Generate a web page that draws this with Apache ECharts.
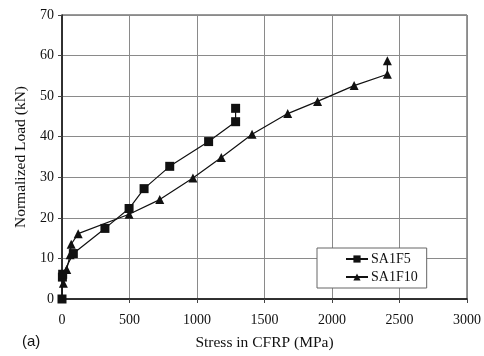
<!DOCTYPE html>
<html>
<head>
<meta charset="utf-8">
<script src="https://cdn.jsdelivr.net/npm/echarts@6/dist/echarts.min.js"></script>
<style>
  html, body { margin: 0; padding: 0; background: #fff; }
  #chart { width: 484px; height: 356px; }
</style>
</head>
<body>
<div id="chart"></div>
<script>
// Stress in CFRP (MPa) vs normalized load (kN)
const seriesNames = ['SA1F5', 'SA1F10'];
const stressF5 = [0, 3, 5, 84, 318, 497, 608, 798, 1086, 1286, 1286];
const loadF5   = [0, 5.4, 6.1, 11.2, 17.4, 22.3, 27.2, 32.7, 38.8, 43.7, 47.0];
const stressF10 = [10, 35, 60, 68, 120, 497, 724, 970, 1180, 1408, 1672, 1893, 2164, 2410, 2410];
const loadF10   = [3.9, 7.3, 10.9, 13.5, 16.1, 20.9, 24.5, 29.8, 34.9, 40.6, 45.7, 48.7, 52.6, 55.4, 58.7];
const xTicks = [0, 500, 1000, 1500, 2000, 2500, 3000];
const yTicks = [0, 10, 20, 30, 40, 50, 60, 70];

const font = 'Liberation Serif';
const pairs = (xs, ys) => xs.map((x, i) => [x, ys[i]]);

const chart = echarts.init(document.getElementById('chart'));
chart.setOption({
  animation: false,
  backgroundColor: '#fff',
  textStyle: { fontFamily: font },
  grid: { left: 62, right: 16, top: 15, bottom: 54, show: true, borderColor: '#333', borderWidth: 1 },
  xAxis: {
    type: 'value',
    min: xTicks[0], max: xTicks[xTicks.length - 1], interval: 500,
    name: 'Stress in CFRP (MPa)', nameLocation: 'middle', nameGap: 36,
    nameTextStyle: { fontFamily: font, fontSize: 15.5, color: '#111' },
    axisLine: { lineStyle: { color: '#111', width: 1.5 } },
    axisTick: { show: true, length: 4, lineStyle: { color: '#444' } },
    axisLabel: { fontFamily: font, fontSize: 14, color: '#111', margin: 14, formatter: v => String(v) },
    splitLine: { show: true, lineStyle: { color: '#8a8a8a', width: 1 } }
  },
  yAxis: {
    type: 'value',
    min: yTicks[0], max: yTicks[yTicks.length - 1], interval: 10,
    name: 'Normalized Load (kN)', nameLocation: 'middle', nameGap: 32,
    nameTextStyle: { fontFamily: font, fontSize: 15.5, color: '#111' },
    axisLine: { show: true, lineStyle: { color: '#111', width: 1.5 } },
    axisTick: { show: true, length: 4, inside: false, lineStyle: { color: '#444' } },
    axisLabel: { fontFamily: font, fontSize: 14, color: '#111', margin: 8, formatter: v => String(v) },
    splitLine: { show: true, lineStyle: { color: '#8a8a8a', width: 1 } }
  },
  legend: {
    orient: 'vertical',
    left: 317, top: 248,
    padding: [4, 9, 4, 28],
    itemGap: 4,
    itemWidth: 22, itemHeight: 9,
    backgroundColor: '#fff',
    borderColor: '#666', borderWidth: 1,
    textStyle: { fontFamily: font, fontSize: 14, color: '#111', padding: [0, 0, 0, -2] },
    data: seriesNames
  },
  series: [
    {
      name: seriesNames[0], type: 'line',
      data: pairs(stressF5, loadF5),
      symbol: 'rect', symbolSize: 9,
      lineStyle: { color: '#111', width: 1.2 },
      itemStyle: { color: '#111' }
    },
    {
      name: seriesNames[1], type: 'line',
      data: pairs(stressF10, loadF10),
      symbol: 'triangle', symbolSize: 9,
      lineStyle: { color: '#111', width: 1.2 },
      itemStyle: { color: '#111' }
    }
  ],
  graphic: [
    { type: 'text', left: 22, top: 334, style: { text: '(a)', font: '15px "Liberation Sans"', fill: '#111' } }
  ]
});
</script>
</body>
</html>
